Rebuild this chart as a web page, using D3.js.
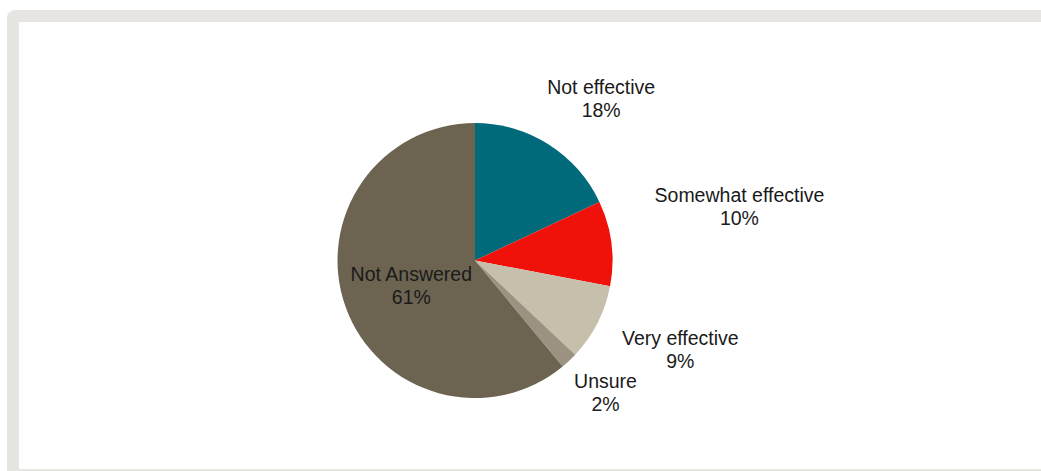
<!DOCTYPE html>
<html>
<head>
<meta charset="utf-8">
<script src="https://cdn.jsdelivr.net/npm/d3@7"></script>
<style>
  body { margin: 0; background: #fff; }
  svg text { font-family: "Liberation Sans", Arial, sans-serif; font-size: 19.5px; fill: #1a1a1a; }
</style>
</head>
<body>
<div id="chart"></div>
<script>
// data, clockwise from 12 o'clock
var categories = ["Not effective", "Somewhat effective", "Very effective", "Unsure", "Not Answered"];
var values = [18, 10, 9, 2, 61];
var colors = ["#00697a", "#ef110a", "#c5bfab", "#9c9281", "#6c6451"];

var width = 1041, height = 471;
var cx = 475, cy = 260.5, radius = 137.5;

var svg = d3.select("#chart").append("svg")
    .attr("width", width)
    .attr("height", height);

// frame
svg.append("rect")
    .attr("x", 7).attr("y", 10)
    .attr("width", width + 20).attr("height", height)
    .attr("rx", 8)
    .attr("fill", "#e6e5e1");
svg.append("rect")
    .attr("x", 19).attr("y", 22)
    .attr("width", width).attr("height", 447)
    .attr("fill", "#fff");

var data = categories.map(function(c, i) { return {name: c, value: values[i], color: colors[i]}; });

var pie = d3.pie()
    .sort(null)
    .value(function(d) { return d.value; });

var arc = d3.arc().innerRadius(0).outerRadius(radius);

var g = svg.append("g")
    .attr("transform", "translate(" + cx + "," + cy + ")");

var arcs = pie(data);

g.selectAll("path")
    .data(arcs)
  .enter().append("path")
    .attr("d", arc)
    .attr("fill", function(d) { return d.data.color; });

// labels: inside for the big slice, outside end for the rest
var lineH = 23;
// small manual shifts, like dragged labels in the original
var nudge = {
  "Not effective": [8, -2],
  "Somewhat effective": [15, -30],
  "Very effective": [5, 3],
  "Unsure": [-5, -6],
  "Not Answered": [1, 2]
};

arcs.forEach(function(d) {
  var lab = g.append("text").attr("text-anchor", "middle");
  lab.append("tspan").attr("x", 0).attr("dy", 0).text(d.data.name);
  lab.append("tspan").attr("x", 0).attr("dy", lineH).text(d.data.value + "%");

  var bb = lab.node().getBBox();
  var a = (d.startAngle + d.endAngle) / 2;
  var sx = Math.sin(a), sy = -Math.cos(a);
  var n = nudge[d.data.name] || [0, 0];
  var px, py;
  if (d.data.value > 50) {
    var c = arc.centroid(d);
    px = c[0] + n[0]; py = c[1] + n[1];
  } else {
    var r = radius + 29;
    px = r * sx + sx * bb.width / 2 + n[0];
    py = r * sy + sy * bb.height / 2 + n[1];
  }
  // center the two-line box on (px, py)
  var midY = bb.y + bb.height / 2;
  lab.attr("transform", "translate(" + px + "," + (py - midY) + ")");
});
</script>
</body>
</html>
